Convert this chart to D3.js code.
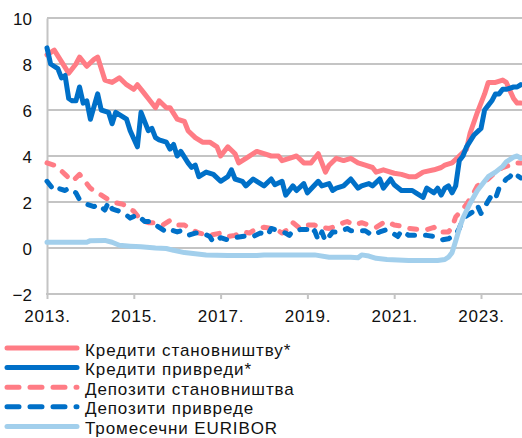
<!DOCTYPE html>
<html><head><meta charset="utf-8">
<script src="https://cdn.jsdelivr.net/npm/d3@7"></script>
<style>body{margin:0;background:#fff} svg{display:block}</style>
</head><body><svg id="c" width="522" height="438"></svg>
<script>
// months since January 2013
const yearTickMonths = [0, 24, 48, 72, 96, 120];
const yearLabels = ["2013.", "2015.", "2017.", "2019.", "2021.", "2023."];
const yTicks = [-2, 0, 2, 4, 6, 8, 10];
const seriesNames = ["Кредити становништву*", "Кредити привреди*", "Депозити становништва", "Депозити привреде", "Тромесечни EURIBOR"];

const housingLoans = [[0,8.4],[2,8.6],[4,8.1],[6,7.6],[8,8.0],[9,8.3],[11,7.9],[13,8.2],[14,8.3],[16,7.3],[18,7.2],[20,7.4],[22,7.1],[24,6.9],[25,7.1],[27,6.7],[28,6.5],[30,6.1],[31,6.4],[33,6.1],[34,6.1],[36,5.6],[38,5.5],[39,5.1],[41,4.8],[43,4.6],[45,4.6],[47,4.4],[48,4.0],[50,4.4],[52,4.1],[53,3.7],[55,3.9],[58,4.2],[60,4.1],[62,4.0],[64,4.0],[65,3.8],[67,3.9],[69,4.0],[71,3.7],[73,3.7],[75,4.1],[77,3.3],[78,3.6],[80,3.9],[82,3.8],[84,3.9],[86,3.7],[88,3.6],[90,3.5],[91,3.3],[93,3.4],[96,3.25],[98,3.2],[100,3.1],[102,3.1],[104,3.3],[107,3.4],[109,3.5],[110,3.6],[112,3.7],[114,4.0],[116,4.3],[117,5.0],[119,5.9],[121,6.7],[122,7.2],[124,7.2],[126,7.3],[127,7.2],[129,6.5],[130,6.3],[131,6.3]];

const businessLoans = [[0,8.7],[1,8.0],[3,7.8],[4,7.4],[5,7.5],[6,6.5],[7,6.4],[8,6.4],[9,7.0],[10,6.3],[11,6.4],[12,5.6],[14,6.7],[15,6.0],[17,5.9],[18,5.4],[19,5.9],[22,5.6],[23,5.1],[25,4.4],[26,5.9],[28,5.1],[29,5.2],[30,4.8],[31,4.7],[33,4.6],[34,4.3],[35,4.5],[36,4.0],[37,4.2],[39,3.7],[40,3.5],[41,3.6],[42,3.1],[44,3.3],[46,3.2],[48,2.9],[50,3.1],[51,3.4],[52,3.0],[54,2.9],[55,2.7],[57,3.0],[58,2.9],[60,2.7],[62,3.0],[63,2.75],[65,2.9],[66,2.3],[68,2.7],[69,2.5],[71,2.8],[72,2.4],[75,2.9],[76,2.7],[78,2.8],[79,2.5],[80,2.6],[82,2.7],[84,3.0],[86,2.6],[87,2.7],[89,2.8],[90,2.7],[92,3.0],[93,2.6],[95,3.0],[96,2.75],[98,2.5],[100,2.5],[101,2.5],[102,2.4],[104,2.2],[105,2.6],[107,2.4],[108,2.6],[109,2.3],[110,2.6],[111,2.7],[112,2.4],[113,2.7],[114,3.8],[115,4.0],[116,4.4],[118,4.9],[120,5.2],[121,6.0],[122,6.2],[123,6.4],[124,6.7],[125,6.7],[126,6.9],[127,6.9],[129,7.0],[130,7.0],[131,7.1]];

const housingDeposits = [[0,3.7],[2,3.6],[3,3.5],[5,3.2],[7,2.9],[9,3.2],[10,3.0],[12,2.6],[14,2.4],[16,2.2],[18,2.0],[21,1.9],[24,1.6],[26,1.2],[28,1.1],[30,1.1],[32,1.0],[34,1.2],[36,1.0],[38,1.0],[40,0.8],[42,0.65],[45,0.55],[48,0.65],[50,0.5],[52,0.55],[54,0.7],[56,0.65],[58,0.85],[60,0.9],[62,0.85],[63,0.85],[65,0.65],[67,0.85],[68,1.1],[70,0.85],[72,1.0],[74,1.0],[75,0.9],[78,0.85],[79,0.9],[82,1.1],[83,1.15],[85,1.0],[87,1.1],[89,1.0],[91,0.9],[93,1.1],[94,1.15],[96,1.0],[98,0.95],[100,0.85],[103,0.8],[105,0.8],[107,0.9],[108,0.7],[111,0.7],[112,0.9],[113,1.35],[115,1.7],[116,1.9],[118,2.4],[119,2.7],[121,2.9],[122,3.0],[124,3.3],[126,3.5],[128,3.6],[129,3.7],[131,3.7]];

const businessDeposits = [[0,2.9],[2,2.5],[3,2.6],[5,2.5],[6,2.6],[8,2.4],[9,2.1],[11,1.9],[13,1.8],[14,1.9],[16,1.65],[17,2.0],[18,1.7],[19,1.65],[21,1.55],[23,1.3],[25,1.45],[27,1.15],[29,1.15],[30,1.0],[32,0.8],[33,0.7],[34,0.8],[36,0.7],[37,0.75],[39,0.55],[41,0.65],[43,0.65],[45,0.5],[46,0.25],[48,0.45],[50,0.35],[52,0.45],[54,0.5],[56,0.55],[57,0.5],[59,0.65],[61,0.55],[62,0.85],[64,0.75],[66,0.65],[67,0.55],[68,0.75],[70,0.8],[72,0.8],[73,0.6],[74,0.75],[75,0.35],[76,0.7],[77,0.3],[79,0.7],[81,0.7],[83,0.85],[84,0.75],[86,0.75],[88,0.75],[90,0.55],[92,0.7],[94,0.8],[95,0.7],[97,0.5],[98,0.75],[100,0.55],[102,0.55],[105,0.55],[107,0.5],[109,0.35],[111,0.4],[113,0.6],[114,0.85],[115,1.3],[116,1.4],[118,1.6],[119,1.85],[120,1.5],[122,2.05],[123,2.3],[124,2.15],[125,2.6],[127,3.0],[128,3.1],[129,3.3],[130,3.15],[131,3.05]];

const euribor3m = [[0,0.25],[11,0.25],[12,0.32],[16,0.33],[18,0.25],[20,0.12],[23,0.08],[26,0.05],[30,0.0],[33,-0.02],[35,-0.1],[38,-0.2],[41,-0.25],[44,-0.3],[50,-0.33],[58,-0.33],[60,-0.3],[74,-0.3],[78,-0.4],[84,-0.4],[86,-0.42],[87,-0.3],[89,-0.35],[91,-0.45],[94,-0.5],[100,-0.54],[108,-0.54],[110,-0.5],[111,-0.4],[112,-0.2],[113,0.3],[114,0.85],[115,1.3],[117,1.95],[119,2.5],[121,2.9],[122,3.1],[124,3.3],[126,3.55],[127,3.75],[129,3.95],[130,4.0],[131,3.9]];

const seriesData = [housingLoans, businessLoans, housingDeposits, businessDeposits, euribor3m];
const seriesColors = ["#FF7C85", "#0070C8", "#FF7C85", "#0070C8", "#A2CFEC"];
const seriesDashed = [false, false, true, true, false];

const FONT = '"Liberation Sans", Arial, sans-serif';
const GRID = "#c4c4c4";
const svg = d3.select("#c");
svg.append("rect").attr("width", 522).attr("height", 438).attr("fill", "#fff");

const x = d3.scaleLinear().domain([0, 131]).range([47, 47 + 131 * 86.8 / 24]);
const y = d3.scaleLinear().domain([-2, 10]).range([294, 18]);

// gridlines
svg.append("g").selectAll("line").data(yTicks.filter(v => v > -2)).join("line")
  .attr("x1", 47).attr("x2", 522).attr("y1", d => y(d)).attr("y2", d => y(d))
  .attr("stroke", GRID).attr("stroke-width", 2);

// y axis
const yAxis = svg.append("g").attr("transform", "translate(47,0)")
  .call(d3.axisLeft(y).tickValues(yTicks).tickSize(0).tickSizeOuter(0).tickPadding(15).tickFormat(d3.format("d")));
yAxis.attr("font-family", FONT).attr("font-size", 17);
yAxis.select(".domain").attr("stroke", GRID).attr("stroke-width", 2);
yAxis.selectAll("text").attr("fill", "#111").attr("dy", "0.4em");

// x axis
const xAxis = svg.append("g").attr("transform", "translate(0,294)")
  .call(d3.axisBottom(x).tickValues(yearTickMonths).tickSize(5).tickSizeOuter(0).tickPadding(11)
    .tickFormat((d, i) => yearLabels[i]));
xAxis.attr("font-family", FONT).attr("font-size", 17);
xAxis.select(".domain").attr("stroke", GRID).attr("stroke-width", 2).attr("d", "M46,0H522");
xAxis.selectAll(".tick line").attr("stroke", GRID).attr("stroke-width", 2);
xAxis.selectAll("text").attr("fill", "#111").attr("letter-spacing", "0.8px");

// lines
const line = d3.line().x(d => x(d[0])).y(d => y(d[1]));
seriesData.forEach((data, i) => {
  svg.append("path").datum(data).attr("d", line)
    .attr("fill", "none").attr("stroke", seriesColors[i]).attr("stroke-width", 5)
    .attr("stroke-linejoin", "round").attr("stroke-linecap", "round")
    .attr("stroke-dasharray", seriesDashed[i] ? "7,11" : null);
});

// legend
const legend = svg.append("g").attr("font-family", FONT).attr("font-size", 17).attr("letter-spacing", "0.9px");
seriesNames.forEach((name, i) => {
  const cy = 348 + i * 19.6;
  legend.append("line").attr("x1", 7).attr("x2", 77).attr("y1", cy).attr("y2", cy)
    .attr("stroke", seriesColors[i]).attr("stroke-width", 5).attr("stroke-linecap", "round")
    .attr("stroke-dasharray", seriesDashed[i] ? "12,11" : null);
  legend.append("text").attr("x", 85).attr("y", cy + 7.5).attr("fill", "#111").text(name);
});
</script></body></html>
